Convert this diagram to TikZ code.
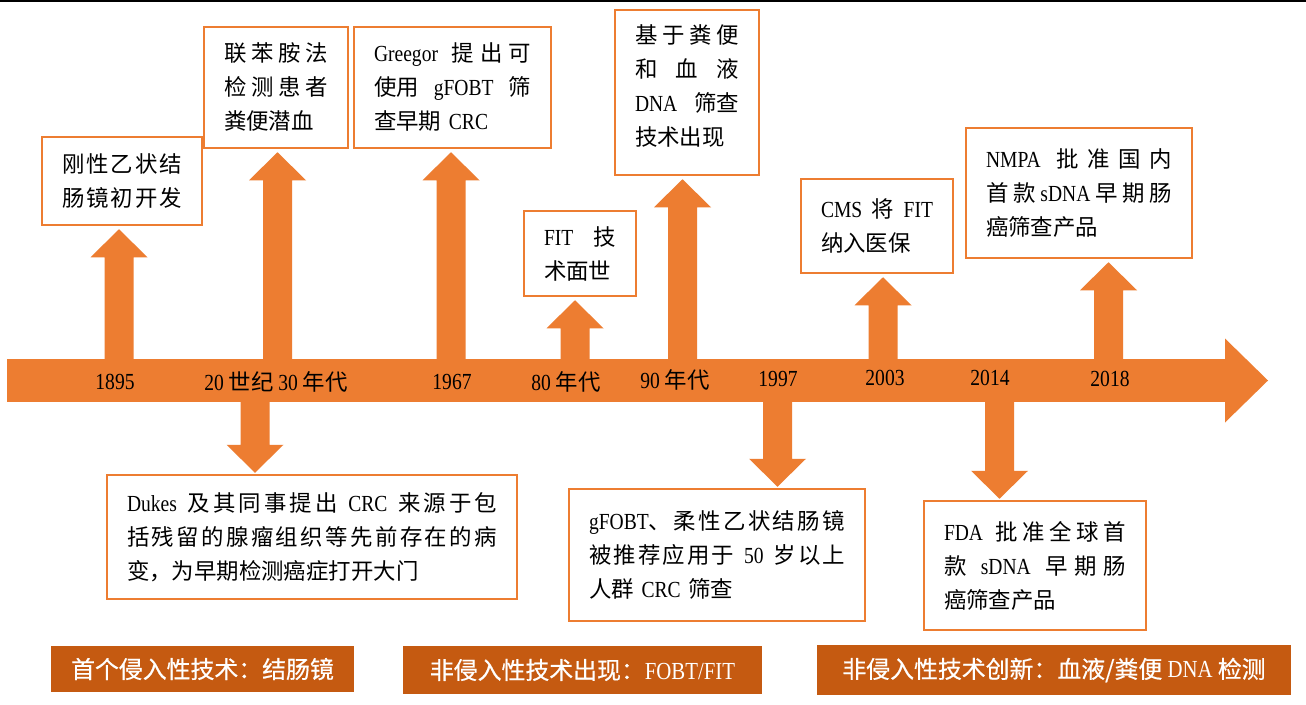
\documentclass[tikz,border=0pt]{standalone}
\usepackage{fontspec}
\setmainfont{Liberation Serif}[FakeStretch=0.85]
\newfontfamily\cjk[Scale=0.975]{Noto Sans CJK SC}
\newfontfamily\cjkb[Scale=0.975,FakeBold=0.6]{Noto Sans CJK SC}
\usetikzlibrary{calc}
\definecolor{org}{HTML}{ED7D31}
\definecolor{dorg}{HTML}{C55A11}
\newcommand\zh[1]{{\cjk #1}}
\newcommand\zb[1]{{\cjkb #1}}
\newcommand\jl[1]{\makebox[\hsize][s]{#1}}
\def\sprx#1{#1\spry}
\def\spry#1{\ifx#1\relax\else\hfil#1\expandafter\spry\fi}
\newcommand\zs[1]{{\cjk\sprx#1\relax}}
\newcommand\spr[1]{\jl{\zs{#1}}}
\newcommand\blk[3]{%
  \coordinate (#3) at ($(#2)!28pt!(#1)$);
  \fill[org] ($(#1)+(-14.5,0)$) -- ($(#3)+(-14.5,0)$) -- ($(#3)+(-28.5,0)$) -- (#2)
    -- ($(#3)+(28.5,0)$) -- ($(#3)+(14.5,0)$) -- ($(#1)+(14.5,0)$) -- cycle;}
\tikzset{
  box/.style={draw=org, line width=2.5pt, fill=white, inner xsep=20pt, inner ysep=0pt,
    align=left, anchor=center, font=\fontsize{23}{34}\selectfont},
  yr/.style={inner sep=0pt, anchor=center, font=\fontsize{23}{26}\selectfont, text=black},
  lab/.style={fill=dorg, inner sep=0pt, text=white, anchor=center, font=\fontsize{24.5}{28}\selectfont},
}
\begin{document}
\begin{tikzpicture}[x=1pt,y=-1pt]
\fill[white] (0,0) rectangle (1306,704);
\useasboundingbox (0,0) rectangle (1306,704);
\fill[black] (0,0) rectangle (1306,2);

% main band
\node[fill=org, inner sep=0pt, outer sep=0pt, minimum width=1218pt, minimum height=43pt] (band) at (616,380.5) {};
\fill[org] ($(band.east)+(0,-42)$) -- ($(band.east)+(43,0)$) -- ($(band.east)+(0,42)$) -- cycle;

% boxes above
\node[box, text width=120pt, minimum height=88pt] (b1) at (122,181)
  {\spr{刚性乙状结}\\\spr{肠镜初开发}};
\node[box, text width=104pt, minimum height=121pt] (b2) at (276,87.5)
  {\spr{联苯胺法}\\\spr{检测患者}\\\zh{粪便潜血}};
\node[box, text width=157pt, minimum height=121pt] (b3) at (452.5,87.5)
  {\jl{Greegor \hfil\zs{提出可}}\\\jl{\zh{使用} \hfil gFOBT \hfil\zh{筛}}\\\zh{查早期} CRC};
\node[box, text width=72pt, minimum height=85pt] (b4) at (580,253.5)
  {\jl{FIT \hfil\zh{技}}\\\zh{术面世}};
\node[box, text width=104pt, minimum height=165pt] (b5) at (687,92.5)
  {\spr{基于粪便}\\\spr{和血液}\\\jl{DNA \hfil\zh{筛查}}\\\zh{技术出现}\\[-20pt]\mbox{}};
\node[box, text width=112pt, minimum height=94pt] (b6) at (877,226)
  {\jl{CMS\hfil\zh{将}\hfil FIT}\\\zh{纳入医保}};
\node[box, text width=186pt, minimum height=130pt] (b7) at (1079,193)
  {\jl{NMPA \hfil\zs{批准国内}}\\\jl{\zs{首款}\hfil sDNA\hfil\zs{早期肠}}\\\zh{癌筛查产品}};

% boxes below
\node[box, text width=370pt, minimum height=124pt] (bA) at (312,537)
  {\jl{Dukes \hfil\zs{及其同事提出} \hfil CRC \hfil\zs{来源于包}}\\\spr{括残留的腺瘤组织等先前存在的病}\\\zh{变，为早期检测癌症打开大门}};
\node[box, text width=256pt, minimum height=132pt] (bB) at (717,555)
  {\jl{gFOBT\zh{、}\hfil\zs{柔性乙状结肠镜}}\\\jl{\zs{被推荐应用于} \hfil 50 \hfil\zs{岁以上}}\\\zh{人群} CRC \zh{筛查}};
\node[box, text width=182pt, minimum height=129pt] (bC) at (1035,565.5)
  {\jl{FDA \hfil\zs{批准全球首}}\\\jl{\zh{款} \hfil sDNA \hfil\zs{早期肠}}\\\zh{癌筛查产品}};

% arrow positions
\coordinate (a1) at (119,380);
\coordinate (a2) at (277.5,380);
\coordinate (a3) at (451,380);
\coordinate (a4) at (575,380);
\coordinate (a5) at (682.5,380);
\coordinate (a6) at (883,380);
\coordinate (a7) at (1108.5,380);
\coordinate (d1) at (255,380);
\coordinate (d2) at (777.5,380);
\coordinate (d3) at (999.5,380);

\foreach \a/\b in {a1/b1,a2/b2,a3/b3,a4/b4,a5/b5,a6/b6,a7/b7}{
  \coordinate (s\a) at (\a |- band.center);
  \coordinate (t\a) at ($(\a |- \b.south)+(0,3)$);
  \blk{s\a}{t\a}{h\a}
}
\foreach \a/\b in {d1/bA,d2/bB,d3/bC}{
  \coordinate (s\a) at (\a |- band.center);
  \coordinate (t\a) at ($(\a |- \b.north)+(0,-1)$);
  \blk{s\a}{t\a}{h\a}
}

% year labels (on top of the band and arrow shafts)
\node[yr] (y1) at (115,382) {1895};
\node[yr] (y2) at (276,382) {20 \zh{世纪} 30 \zh{年代}};
\node[yr] (y3) at (452,382) {1967};
\node[yr] (y4) at (566,382) {80 \zh{年代}};
\node[yr] (y5) at (675,380) {90 \zh{年代}};
\node[yr] (y6) at (778,379) {1997};
\node[yr] (y7) at (885,378) {2003};
\node[yr] (y8) at (990,378) {2014};
\node[yr] (y9) at (1110,379) {2018};

% bottom labels
\node[lab, minimum width=303pt, minimum height=46pt] (L1) at (202.5,669)
  {\zb{首个侵入性技术：结肠镜}};
\node[lab, minimum width=359pt, minimum height=48pt] (L2) at (582.5,670)
  {\zb{非侵入性技术出现：}FOBT/FIT};
\node[lab, minimum width=474pt, minimum height=50pt] (L3) at (1054,670)
  {\zb{非侵入性技术创新：血液/粪便} DNA \zb{检测}};
\end{tikzpicture}
\end{document}
